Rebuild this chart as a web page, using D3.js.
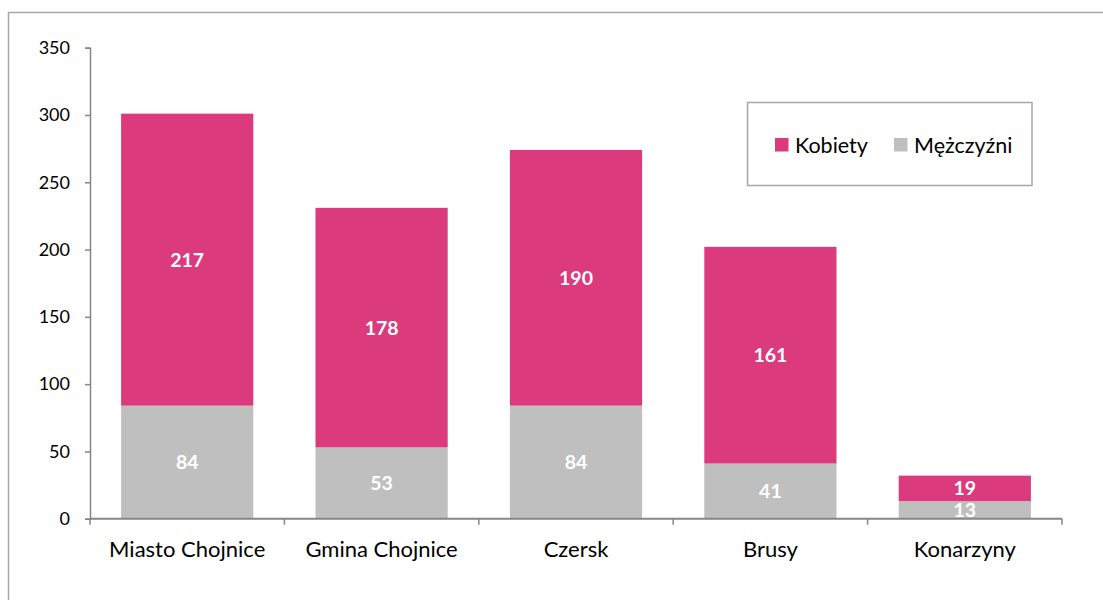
<!DOCTYPE html>
<html>
<head>
<meta charset="utf-8">
<script src="https://cdn.jsdelivr.net/npm/d3@7"></script>
<style>
  body { margin: 0; background: #fff; }
  svg { display: block; font-family: Lato, "Open Sans", sans-serif; }
</style>
</head>
<body>
<div id="chart"></div>
<script>
const categories = ['Miasto Chojnice', 'Gmina Chojnice', 'Czersk', 'Brusy', 'Konarzyny'];
const men = [84, 53, 84, 41, 13];
const women = [217, 178, 190, 161, 19];
const seriesNames = ['Kobiety', 'Mężczyźni'];
const yTicks = [0, 50, 100, 150, 200, 250, 300, 350];

const width = 1103, height = 600;
const colors = {Kobiety: '#DB3A7C', 'Mężczyźni': '#BFBFBF'};
const axisColor = '#868686';

const svg = d3.select('#chart').append('svg')
    .attr('width', width)
    .attr('height', height);

// outer chart frame
svg.append('rect')
    .attr('x', 8.5).attr('y', 12.5)
    .attr('width', 1110).attr('height', 620)
    .attr('fill', 'none')
    .attr('stroke', '#a6a6a6')
    .attr('stroke-width', 1.5);

let x = d3.scaleBand()
    .domain(categories)
    .range([90, 1062])
    .paddingInner(0.32)
    .paddingOuter(0.16);
let y = d3.scaleLinear()
    .domain([0, 350])
    .range([518.7, 47.7]);

// stacked data
let stackData = categories.map((c, i) => ({cat: c, 'Mężczyźni': men[i], Kobiety: women[i]}));
let stacked = d3.stack().keys(['Mężczyźni', 'Kobiety'])(stackData);

const bars = svg.append('g').attr('id', 'data');
stacked.forEach(layer => {
    let g = bars.append('g');
    g.selectAll('rect')
        .data(layer)
        .join('rect')
        .attr('x', d => x(d.data.cat))
        .attr('y', d => y(d[1]))
        .attr('width', x.bandwidth())
        .attr('height', d => y(d[0]) - y(d[1]))
        .attr('fill', colors[layer.key]);
    g.selectAll('text')
        .data(layer)
        .join('text')
        .attr('x', d => x(d.data.cat) + x.bandwidth() / 2)
        .attr('y', d => (y(d[0]) + y(d[1])) / 2)
        .attr('dy', '0.36em')
        .attr('text-anchor', 'middle')
        .attr('fill', '#fff')
        .attr('font-weight', 'bold')
        .attr('font-size', 19.5)
        .text(d => d[1] - d[0]);
});

// y axis
svg.append('g')
    .attr('transform', 'translate(90,0)')
    .call(d3.axisLeft(y).tickValues(yTicks).tickSize(5).tickPadding(15).tickSizeOuter(5))
    .call(g => g.selectAll('path, line').attr('stroke', axisColor).attr('stroke-width', 1.5))
    .call(g => g.selectAll('text').attr('font-size', 18).attr('fill', '#000').attr('font-family', 'Lato, sans-serif'));

// x axis with ticks between categories
const xAxisG = svg.append('g')
    .attr('transform', 'translate(0,518.7)');
xAxisG.append('line')
    .attr('x1', 90).attr('x2', 1062)
    .attr('stroke', axisColor).attr('stroke-width', 2);
let boundaries = categories.map(c => x(c) - x.step() * x.paddingInner() / 2).concat([1062]);
xAxisG.selectAll('.tick')
    .data(boundaries)
    .join('line')
    .attr('x1', d => d).attr('x2', d => d)
    .attr('y1', 0).attr('y2', 6)
    .attr('stroke', axisColor).attr('stroke-width', 1.5);
xAxisG.selectAll('text')
    .data(categories)
    .join('text')
    .attr('x', d => x(d) + x.bandwidth() / 2)
    .attr('y', 38.6)
    .attr('text-anchor', 'middle')
    .attr('font-size', 22)
    .attr('fill', '#000')
    .text(d => d);

// legend
const legend = svg.append('g').attr('id', 'legend');
legend.append('rect')
    .attr('x', 747.5).attr('y', 102.5)
    .attr('width', 284.5).attr('height', 83)
    .attr('fill', '#fff')
    .attr('stroke', '#a6a6a6').attr('stroke-width', 1.5);
const legendX = [775, 894];
seriesNames.forEach((s, i) => {
    let item = legend.append('g')
        .attr('transform', `translate(${legendX[i]},138)`);
    item.append('rect')
        .attr('width', 13.5).attr('height', 13.5)
        .attr('fill', colors[s]);
    item.append('text')
        .attr('x', 20).attr('y', 7)
        .attr('dy', '0.36em')
        .attr('font-size', 21.5)
        .attr('fill', '#000')
        .text(s);
});
</script>
</body>
</html>
